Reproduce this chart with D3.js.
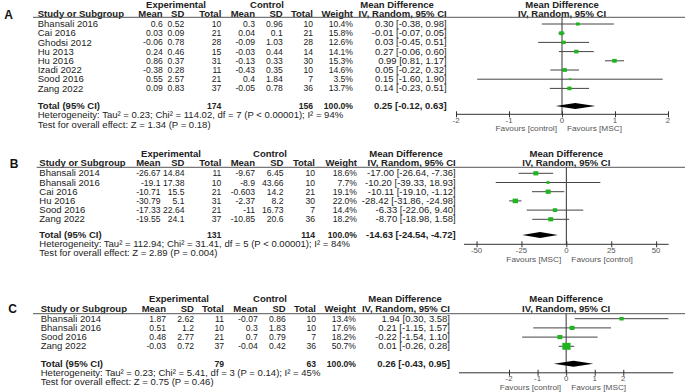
<!DOCTYPE html>
<html><head><meta charset="utf-8">
<script src="https://cdn.jsdelivr.net/npm/d3@7"></script>
<style>
html,body{margin:0;padding:0;background:#fff;}
svg{display:block;font-family:"Liberation Sans",Arial,sans-serif;}
</style></head>
<body>
<svg id="chart" width="685" height="392"></svg>
<script>
// ---------- DATA ----------
// Panel A
const studiesA = ["Bhansali 2016","Cai 2016","Ghodsi 2012","Hu 2013","Hu 2016","Izadi 2022","Sood 2016","Zang 2022"];
const expMeanA = ["0.6","0.03","-0.06","0.24","0.86","-0.38","0.55","0.09"];
const expSDA   = ["0.52","0.09","0.78","0.46","0.37","0.28","2.57","0.83"];
const expNA    = [10,21,28,15,31,11,21,37];
const ctlMeanA = ["0.3","0.04","-0.09","-0.03","-0.13","-0.43","0.4","-0.05"];
const ctlSDA   = ["0.96","0.1","1.03","0.44","0.33","0.35","1.84","0.78"];
const ctlNA    = [10,21,28,14,30,10,7,36];
const weightA  = [10.4,15.8,12.6,14.1,15.3,14.6,3.5,13.7];
const mdA      = [0.30,-0.01,0.03,0.27,0.99,0.05,0.15,0.14];
const loA      = [-0.38,-0.07,-0.45,-0.06,0.81,-0.22,-1.60,-0.23];
const hiA      = [0.98,0.05,0.51,0.60,1.17,0.32,1.90,0.51];
const totalA   = {expN:174, ctlN:156, md:0.25, lo:-0.12, hi:0.63};
const hetA     = "Heterogeneity: Tau² = 0.23; Chi² = 114.02, df = 7 (P < 0.00001); I² = 94%";
const testA    = "Test for overall effect: Z = 1.34 (P = 0.18)";
const ticksA   = [-2,-1,0,1,2];
const favA     = ["Favours [control]","Favours [MSC]"];

// Panel B
const studiesB = ["Bhansali 2014","Bhansali 2016","Cai 2016","Hu 2016","Sood 2016","Zang 2022"];
const expMeanB = ["-26.67","-19.1","-10.71","-30.79","-17.33","-19.55"];
const expSDB   = ["14.84","17.38","15.5","5.1","22.64","24.1"];
const expNB    = [11,10,21,31,21,37];
const ctlMeanB = ["-9.67","-8.9","-0.603","-2.37","-11","-10.85"];
const ctlSDB   = ["6.45","43.66","14.2","8.2","16.73","20.6"];
const ctlNB    = [10,10,21,30,7,36];
const weightB  = [18.6,7.7,19.1,22.0,14.4,18.2];
const mdB      = [-17.00,-10.20,-10.11,-28.42,-6.33,-8.70];
const loB      = [-26.64,-39.33,-19.10,-31.86,-22.06,-18.98];
const hiB      = [-7.36,18.93,-1.12,-24.98,9.40,1.58];
const totalB   = {expN:131, ctlN:114, md:-14.63, lo:-24.54, hi:-4.72};
const hetB     = "Heterogeneity: Tau² = 112.94; Chi² = 31.41, df = 5 (P < 0.00001); I² = 84%";
const testB    = "Test for overall effect: Z = 2.89 (P = 0.004)";
const ticksB   = [-50,-25,0,25,50];
const favB     = ["Favours [MSC]","Favours [control]"];

// Panel C
const studiesC = ["Bhansali 2014","Bhansali 2016","Sood 2016","Zang 2022"];
const expMeanC = ["1.87","0.51","0.48","-0.03"];
const expSDC   = ["2.62","1.2","2.77","0.72"];
const expNC    = [11,10,21,37];
const ctlMeanC = ["-0.07","0.3","0.7","-0.04"];
const ctlSDC   = ["0.86","1.83","0.79","0.42"];
const ctlNC    = [10,10,7,36];
const weightC  = [13.4,17.6,18.2,50.7];
const mdC      = [1.94,0.21,-0.22,0.01];
const loC      = [0.30,-1.15,-1.54,-0.26];
const hiC      = [3.58,1.57,1.10,0.28];
const totalC   = {expN:79, ctlN:63, md:0.26, lo:-0.43, hi:0.95};
const hetC     = "Heterogeneity: Tau² = 0.23; Chi² = 5.41, df = 3 (P = 0.14); I² = 45%";
const testC    = "Test for overall effect: Z = 0.75 (P = 0.46)";
const ticksC   = [-2,-1,0,1,2];
const favC     = ["Favours [control]","Favours [MSC]"];

// ---------- LAYOUT ----------
const SX = 1.06, FS = 9;
const TXT = "#222", GRAY = "#555";
const svg = d3.select("#chart");

function txt(g, x, y, s, o = {}) {
  const sx = o.sx || SX;
  return g.append("text")
    .attr("transform", `translate(${x},${y}) scale(${sx},1)`)
    .attr("text-anchor", o.anchor || "start")
    .attr("dy", "0.35em")
    .style("font-size", (o.size || FS) + "px")
    .style("font-weight", o.bold ? "bold" : "normal")
    .style("fill", o.color || TXT)
    .text(s);
}
const NUM = {size: 8.6, sx: 1.0};
const CI = {size: 8.8, sx: 1.08};
const f2 = d3.format(".2f");
const fm = v => f2(v).replace("−", "-");
const ciStr = (m, l, h) => `${fm(m)} [${fm(l)}, ${fm(h)}]`;

const panels = [
  {letter:"A", lx:8.5, studies:studiesA, em:expMeanA, es:expSDA, en:expNA, cm:ctlMeanA, cs:ctlSDA, cn:ctlNA,
   w:weightA, md:mdA, lo:loA, hi:hiA, tot:totalA, het:hetA, test:testA, ticks:ticksA, fav:favA,
   dom:[-2,2], xr:[456,668], studyX:37.7, ruleX:33,
   cols:[162.7,184.3,221.3,255,282.7,313,353,446.7], expC:176, ctlC:267, mdHC:397,
   y1:5, y2:14.3, rule:17.3, row0:24, rowStep:9.2, totY:106, hetY:115.3, testY:124.7,
   axisY:114.3, tickDy:5.5, favDy:14},
  {letter:"B", lx:14, studies:studiesB, em:expMeanB, es:expSDB, en:expNB, cm:ctlMeanB, cs:ctlSDB, cn:ctlNB,
   w:weightB, md:mdB, lo:loB, hi:hiB, tot:totalB, het:hetB, test:testB, ticks:ticksB, fav:favB,
   dom:[-57,57], xr:[464,668.7], studyX:39.3, ruleX:36.7,
   cols:[160.5,184.5,221.3,255,283.5,315,357,455.7], expC:171, ctlC:270, mdHC:406,
   y1:154, y2:163.3, rule:167.3, row0:173.3, rowStep:9.2, totY:235, hetY:244, testY:253,
   axisY:244.3, tickDy:5.5, favDy:14.5},
  {letter:"C", lx:12.5, studies:studiesC, em:expMeanC, es:expSDC, en:expNC, cm:ctlMeanC, cs:ctlSDC, cn:ctlNC,
   w:weightC, md:mdC, lo:loC, hi:hiC, tot:totalC, het:hetC, test:testC, ticks:ticksC, fav:favC,
   dom:[-3.75,3.75], xr:[459,673.3], studyX:40.7, ruleX:33,
   cols:[166,194,224,257.7,285.7,316,356,450], expC:179, ctlC:270, mdHC:405,
   y1:299.3, y2:309, rule:313.7, row0:318.7, rowStep:9.2, totY:363.7, hetY:373, testY:382.3,
   axisY:372.8, tickDy:5.8, favDy:14.8}
];

panels.forEach(p => {
  const g = svg.append("g");
  const x = d3.scaleLinear().domain(p.dom).range(p.xr);
  const y = d3.scalePoint().domain(p.studies)
    .range([p.row0, p.row0 + p.rowStep * (p.studies.length - 1)]);
  const c = p.cols;

  // panel letter
  txt(g, p.lx, p.y2, p.letter, {anchor:"middle", bold:true, size:12, color:"#111", sx:1});

  // group headers
  txt(g, p.expC, p.y1, "Experimental", {anchor:"middle", bold:true});
  txt(g, p.ctlC, p.y1, "Control", {anchor:"middle", bold:true});
  txt(g, p.mdHC, p.y1, "Mean Difference", {anchor:"middle", bold:true});
  txt(g, x(0), p.y1, "Mean Difference", {anchor:"middle", bold:true});

  // column headers
  txt(g, p.studyX, p.y2, "Study or Subgroup", {bold:true});
  ["Mean","SD","Total","Mean","SD","Total","Weight","IV, Random, 95% CI"].forEach((h, i) =>
    txt(g, c[i], p.y2, h, {anchor:"end", bold:true}));
  txt(g, x(0), p.y2, "IV, Random, 95% CI", {anchor:"middle", bold:true});

  // rule
  g.append("line").attr("x1", p.ruleX).attr("x2", 685).attr("y1", p.rule).attr("y2", p.rule)
    .attr("stroke", "#555").attr("stroke-width", 1);

  // rows
  p.studies.forEach((s, i) => {
    const yy = y(s);
    txt(g, p.studyX, yy, s);
    const vals = [p.em[i], p.es[i], p.en[i], p.cm[i], p.cs[i], p.cn[i], p.w[i].toFixed(1) + "%"];
    vals.forEach((v, j) => txt(g, c[j], yy, v, Object.assign({anchor:"end"}, NUM)));
    txt(g, c[7], yy, ciStr(p.md[i], p.lo[i], p.hi[i]), Object.assign({anchor:"end"}, CI));
  });

  // totals
  txt(g, p.studyX, p.totY, "Total (95% CI)", {bold:true});
  txt(g, c[2], p.totY, p.tot.expN, Object.assign({anchor:"end", bold:true}, NUM));
  txt(g, c[5], p.totY, p.tot.ctlN, Object.assign({anchor:"end", bold:true}, NUM));
  txt(g, c[6], p.totY, "100.0%", Object.assign({anchor:"end", bold:true}, NUM));
  txt(g, c[7], p.totY, ciStr(p.tot.md, p.tot.lo, p.tot.hi), Object.assign({anchor:"end", bold:true}, CI));
  txt(g, p.studyX, p.hetY, p.het);
  txt(g, p.studyX, p.testY, p.test);

  // zero line
  g.append("line").attr("x1", x(0)).attr("x2", x(0)).attr("y1", p.rule).attr("y2", p.axisY)
    .attr("stroke", "#333").attr("stroke-width", 1);

  // CI lines
  p.studies.forEach((s, i) => {
    g.append("line").attr("x1", x(p.lo[i])).attr("x2", x(p.hi[i]))
      .attr("y1", y(s)).attr("y2", y(s)).attr("stroke", "#444").attr("stroke-width", 1);
  });
  // squares
  p.studies.forEach((s, i) => {
    const w = 1.15 * Math.sqrt(p.w[i]), h = 0.85 * w;
    g.append("rect").attr("x", x(p.md[i]) - w / 2).attr("y", y(s) - h / 2)
      .attr("width", w).attr("height", h).attr("fill", "#1fb51f");
  });
  // diamond
  const dh = 3;
  g.append("path")
    .attr("d", `M${x(p.tot.lo)},${p.totY} L${x(p.tot.md)},${p.totY - dh} L${x(p.tot.hi)},${p.totY} L${x(p.tot.md)},${p.totY + dh} Z`)
    .attr("fill", "#000");

  // axis
  const ax = g.append("g").attr("transform", `translate(0,${p.axisY})`)
    .call(d3.axisBottom(x).tickValues(p.ticks).tickSizeInner(3).tickSizeOuter(0)
      .tickFormat(d => String(d)));
  ax.select(".domain").remove();
  ax.append("line").attr("x1", p.xr[0]).attr("x2", p.xr[1]).attr("stroke", "#333");
  ax.selectAll(".tick line").attr("y1", -3).attr("y2", 3).attr("stroke", "#333");
  ax.selectAll(".tick text").remove();
  p.ticks.forEach(t => txt(g, x(t), p.axisY + p.tickDy, String(t), {anchor:"middle", color:GRAY, size:7.8, sx:1}));

  // favours
  txt(g, x(0) - 5, p.axisY + p.favDy, p.fav[0], {anchor:"end", color:GRAY, size:7.8});
  txt(g, x(0) + 5, p.axisY + p.favDy, p.fav[1], {anchor:"start", color:GRAY, size:7.8});
});
</script>
</body></html>
